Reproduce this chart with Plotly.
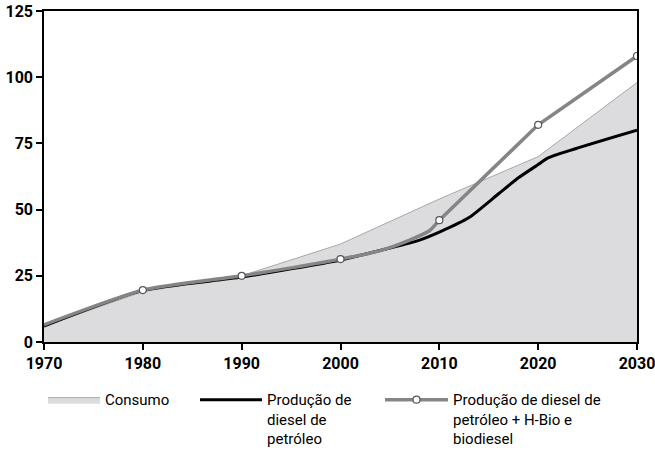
import plotly.graph_objects as go

years_consumo = [1970, 1980, 1990, 2000, 2010, 2020, 2030]
consumo = [6, 19, 25, 37, 54, 70, 98]

years_diesel = [1970, 1980, 1990, 2000, 2005, 2008, 2010, 2013, 2016, 2018, 2020, 2021, 2030]
diesel = [6, 19.5, 24.5, 31, 35.5, 38.5, 41.5, 47, 56, 62, 67, 69.5, 80]

years_bio_a = [1970, 1980, 1990, 2000, 2004, 2007, 2009, 2010]
bio_a = [6.5, 19.6, 25, 31.3, 34.5, 38.5, 42, 46]
years_bio_b = [2010, 2020, 2030]
bio_b = [46, 82, 108]

marker_years = [1980, 1990, 2000, 2010, 2020, 2030]
marker_vals = [19.6, 25, 31.3, 46, 82, 108]

xticks = [1970, 1980, 1990, 2000, 2010, 2020, 2030]
yticks = [0, 25, 50, 75, 100, 125]

FONT = "Roboto, sans-serif"
GRAY = "#858585"

W, H = 655, 452
ML, MR, MT, MB = 44, 18, 11, 110
PW = W - ML - MR

fig = go.Figure()
fig.add_trace(go.Scatter(x=years_consumo, y=consumo, mode="lines", fill="tozeroy",
                         fillcolor="#dcdcde", line=dict(color="#a8a8a8", width=1),
                         name="Consumo", legend="legend"))
fig.add_trace(go.Scatter(x=years_diesel, y=diesel, mode="lines",
                         line=dict(color="black", width=3, shape="spline", smoothing=0.6),
                         name="Produção de<br>diesel de<br>petróleo", legend="legend2"))
fig.add_trace(go.Scatter(x=years_bio_a, y=bio_a, mode="lines", showlegend=False,
                         line=dict(color=GRAY, width=3.5, shape="spline", smoothing=0.6)))
fig.add_trace(go.Scatter(x=years_bio_b, y=bio_b, mode="lines", showlegend=False,
                         line=dict(color=GRAY, width=3.5)))
fig.add_trace(go.Scatter(x=marker_years, y=marker_vals, mode="markers", showlegend=False,
                         marker=dict(color="white", size=7, line=dict(color="#555555", width=1.2))))
fig.add_trace(go.Scatter(x=[None], y=[None], mode="lines+markers",
                         line=dict(color=GRAY, width=3.5),
                         marker=dict(color="white", size=7, line=dict(color="#555555", width=1.2)),
                         name="Produção de diesel de<br>petróleo + H-Bio e<br>biodiesel", legend="legend3"))

def leg(px, iw):
    return dict(orientation="v", x=(px - ML) / PW, y=-0.125, xanchor="left", yanchor="top",
                font=dict(size=15, family=FONT), valign="top", itemwidth=iw,
                bgcolor="rgba(0,0,0,0)")

fig.update_layout(
    width=W, height=H,
    margin=dict(l=ML, r=MR, t=MT, b=MB, autoexpand=False),
    paper_bgcolor="white", plot_bgcolor="white",
    font=dict(family=FONT, color="black"),
    showlegend=True,
    legend=leg(43, 52), legend2=leg(195, 62), legend3=leg(380, 63),
)
fig.update_xaxes(range=[1970, 2030], tickvals=xticks, ticks="outside", ticklen=6,
                 tickwidth=1.5, tickcolor="black", ticklabeloverflow="allow",
                 showline=True, linecolor="black", linewidth=1.5, mirror=True,
                 showgrid=False, zeroline=False, automargin=False,
                 tickfont=dict(size=16, family=FONT, weight="bold"))
fig.update_yaxes(range=[0, 125], tickvals=yticks, ticks="outside", ticklen=6,
                 tickwidth=1.5, tickcolor="black", ticklabeloverflow="allow",
                 showline=True, linecolor="black", linewidth=1.5, mirror=True,
                 showgrid=False, zeroline=False, automargin=False,
                 tickfont=dict(size=16, family=FONT, weight="bold"))

fig.write_html("out.html", config={"displayModeBar": False},
               post_script="document.body.style.margin='0';")
